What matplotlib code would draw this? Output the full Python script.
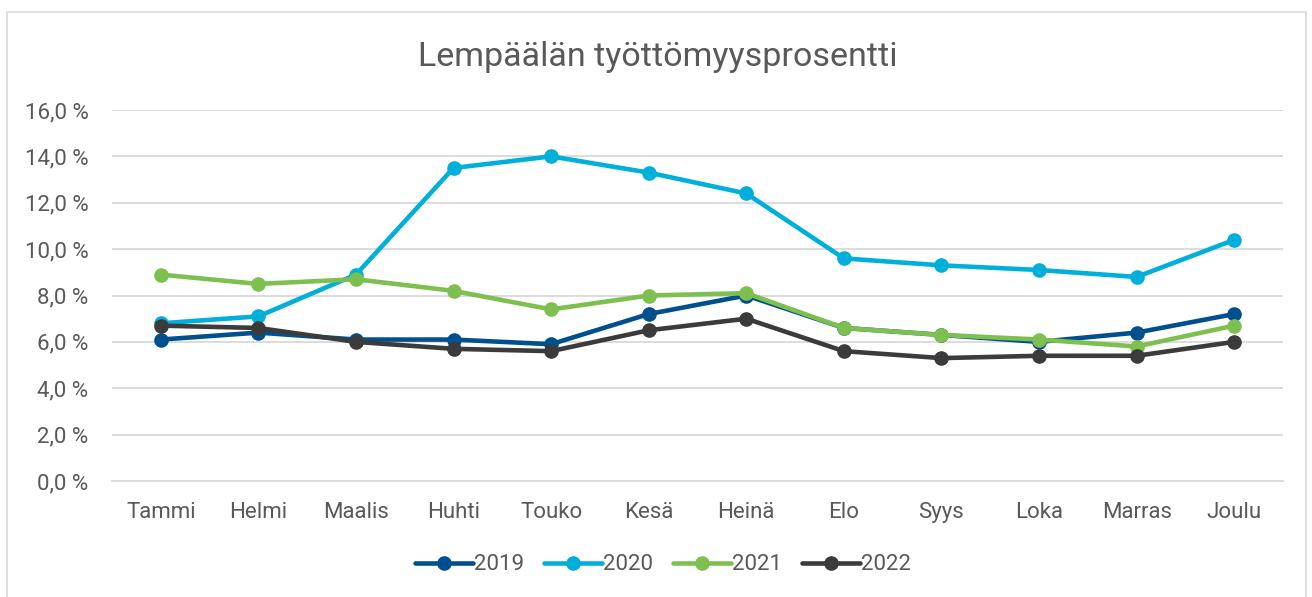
import matplotlib.pyplot as plt
from matplotlib.patches import Rectangle
from matplotlib.ticker import FuncFormatter

months = ['Tammi', 'Helmi', 'Maalis', 'Huhti', 'Touko', 'Kesä',
          'Heinä', 'Elo', 'Syys', 'Loka', 'Marras', 'Joulu']
years = ['2019', '2020', '2021', '2022']
v2019 = [6.1, 6.4, 6.1, 6.1, 5.9, 7.2, 8.0, 6.6, 6.3, 6.0, 6.4, 7.2]
v2020 = [6.8, 7.1, 8.9, 13.5, 14.0, 13.3, 12.4, 9.6, 9.3, 9.1, 8.8, 10.4]
v2021 = [8.9, 8.5, 8.7, 8.2, 7.4, 8.0, 8.1, 6.6, 6.3, 6.1, 5.8, 6.7]
v2022 = [6.7, 6.6, 6.0, 5.7, 5.6, 6.5, 7.0, 5.6, 5.3, 5.4, 5.4, 6.0]
colors = ['#00508F', '#00B0DA', '#7DC04F', '#3B3B3B']

plt.rcParams['font.family'] = ['Liberation Sans Narrow', 'Roboto', 'DejaVu Sans']
txt = '#595959'

fig = plt.figure(figsize=(13.12, 5.97), dpi=100)
ax = fig.add_axes([112/1312, 1 - 481/597, (1283-112)/1312, (481-110)/597])

# chart frame
fig.patches.append(Rectangle((7/1312, -0.01), 1299/1312, 1 - 12/597 + 0.01,
                             transform=fig.transFigure, fill=False,
                             edgecolor='#D9D9D9', linewidth=1.2))

x = range(len(months))
for vals, yr, c in zip([v2019, v2020, v2021, v2022], years, colors):
    ax.plot(x, vals, color=c, linewidth=3.3, marker='o', markersize=9.5,
            label=yr, solid_capstyle='round')

ax.set_xlim(-0.5, len(months) - 0.5)
ax.set_ylim(0, 16)
ax.set_yticks(range(0, 17, 2))
ax.yaxis.set_major_formatter(FuncFormatter(lambda v, p: f'{v:.1f}'.replace('.', ',') + ' %'))
ax.set_xticks(list(x))
ax.set_xticklabels(months)
ax.grid(axis='y', color='#D9D9D9', linewidth=1.3)
ax.set_axisbelow(True)
for s in ax.spines.values():
    s.set_visible(False)
ax.spines['bottom'].set_visible(True)
ax.spines['bottom'].set_color('#D9D9D9')
ax.spines['bottom'].set_linewidth(1.3)
ax.tick_params(length=0, labelsize=16, colors=txt)
ax.tick_params(axis='y', pad=17)
ax.tick_params(axis='x', pad=15)

fig.text(658/1312, 1 - 57/597, 'Lempäälän työttömyysprosentti', ha='center', va='center',
         fontsize=24.5, color=txt)

fig.legend(loc='center', bbox_to_anchor=(663/1312, 1 - 565/597), ncol=4, frameon=False,
           fontsize=16, labelcolor=txt, handlelength=2.6, handletextpad=0.05,
           columnspacing=0.9)

fig.savefig('out.png', dpi=100)
